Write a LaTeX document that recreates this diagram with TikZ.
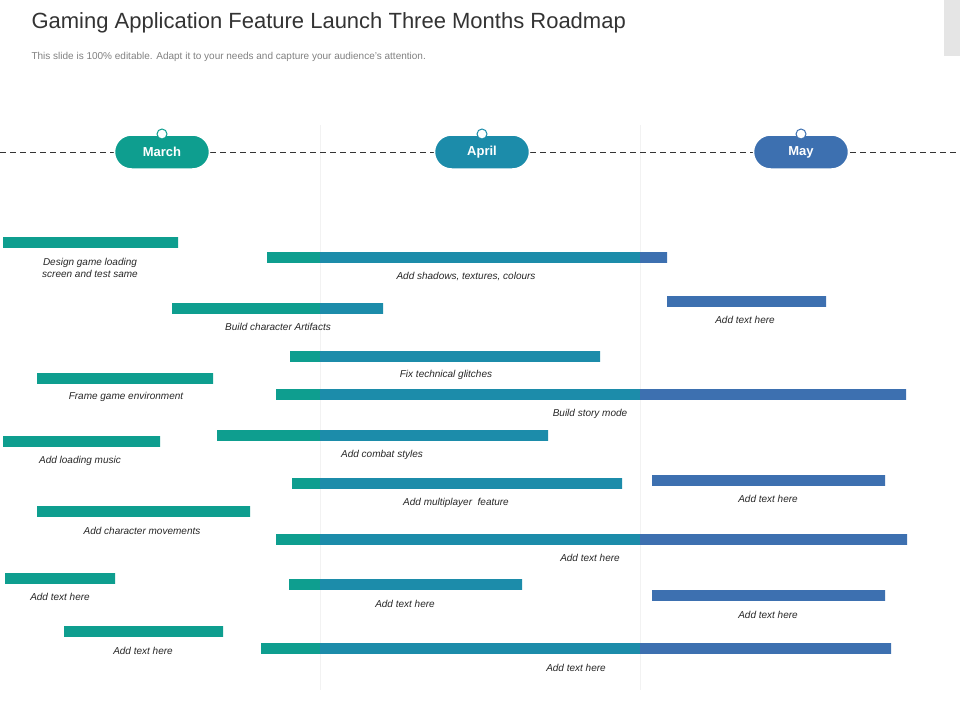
\documentclass[tikz,border=0pt]{standalone}
\usepackage{fontspec}
\setmainfont{Liberation Sans}
\definecolor{cMar}{HTML}{0E9E8F}
\definecolor{cApr}{HTML}{1C8CAA}
\definecolor{cMay}{HTML}{3D70B0}
\tikzset{
  pill/.style={rounded corners=17pt, minimum width=95pt, minimum height=34pt, text=white, font=\bfseries\fontsize{13}{13}\selectfont, draw=white, line width=1.5pt},
  lbl/.style={font=\itshape\fontsize{10}{12}\selectfont, align=center, text=black!85},
}
% bar split into month colours
\newcommand{\gbar}[3]{%
  \begin{scope}
    \clip (#1,#3) rectangle (#2,#3+11);
    \fill[cMar] (0,#3) rectangle (320,#3+11);
    \fill[cApr] (320,#3) rectangle (640,#3+11);
    \fill[cMay] (640,#3) rectangle (960,#3+11);
  \end{scope}}
\begin{document}
\begin{tikzpicture}[x=1pt,y=-1pt]
  \useasboundingbox (0,0) rectangle (960,720);
  % Titulo
  \fill[black!10] (944,0) rectangle (960,56);
  \node[anchor=west, font=\fontsize{22}{24}\selectfont, text=black!80] (title) at (28,23) {Gaming Application Feature Launch Three Months Roadmap};
  \node[anchor=west, font=\fontsize{10}{12}\selectfont, text=black!50] (sub) at (28,57) {This slide is 100\% editable. Adapt it to your needs and capture your audience's attention.};
  % Linea de tiempo
  \draw[black!5] (320,125) -- (320,690);
  \draw[black!5] (640,125) -- (640,690);
  \draw[dashed, dash pattern=on 6pt off 4pt, black!80] (0,152) -- (960,152);
  \foreach \mx/\mname/\mcol in {162/March/cMar, 482/April/cApr, 801/May/cMay}{
    \node[pill, fill=\mcol] (\mname) at (\mx,152) {\mname};
    \draw[\mcol, fill=white, line width=1pt] (\mx,134) circle[radius=5];
  }
  % Barras
  \foreach \xa/\xb/\yb in {3/178/237, 267/667/252, 172/383/303, 667/826/296, 290/600/351,
      37/213/373, 276/906/389, 3/160/436, 217/548/430, 292/622/478, 652/885/475,
      37/250/506, 276/907/534, 5/115/573, 289/522/579, 652/885/590, 64/223/626, 261/891/643}
    {\gbar{\xa}{\xb}{\yb}}
  % Etiquetas
  \node[lbl] (t1) at (90,268) {Design game loading\\screen and test same};
  \node[lbl] (t2) at (466,277) {Add shadows, textures, colours};
  \node[lbl] (t3) at (278,327) {Build character Artifacts};
  \node[lbl] (t4) at (745,320) {Add text here};
  \node[lbl] (t5) at (446,375) {Fix technical glitches};
  \node[lbl] (t6) at (126,397) {Frame game environment};
  \node[lbl] (t7) at (590,414) {Build story mode};
  \node[lbl] (t8) at (80,461) {Add loading music};
  \node[lbl] (t9) at (382,455) {Add combat styles};
  \node[lbl] (t10) at (456,503) {Add multiplayer\ \ feature};
  \node[lbl] (t11) at (768,499) {Add text here};
  \node[lbl] (t12) at (142,531) {Add character movements};
  \node[lbl] (t13) at (590,558) {Add text here};
  \node[lbl] (t14) at (60,597) {Add text here};
  \node[lbl] (t15) at (405,604) {Add text here};
  \node[lbl] (t16) at (768,615) {Add text here};
  \node[lbl] (t17) at (143,651) {Add text here};
  \node[lbl] (t18) at (576,668) {Add text here};
\end{tikzpicture}
\end{document}
